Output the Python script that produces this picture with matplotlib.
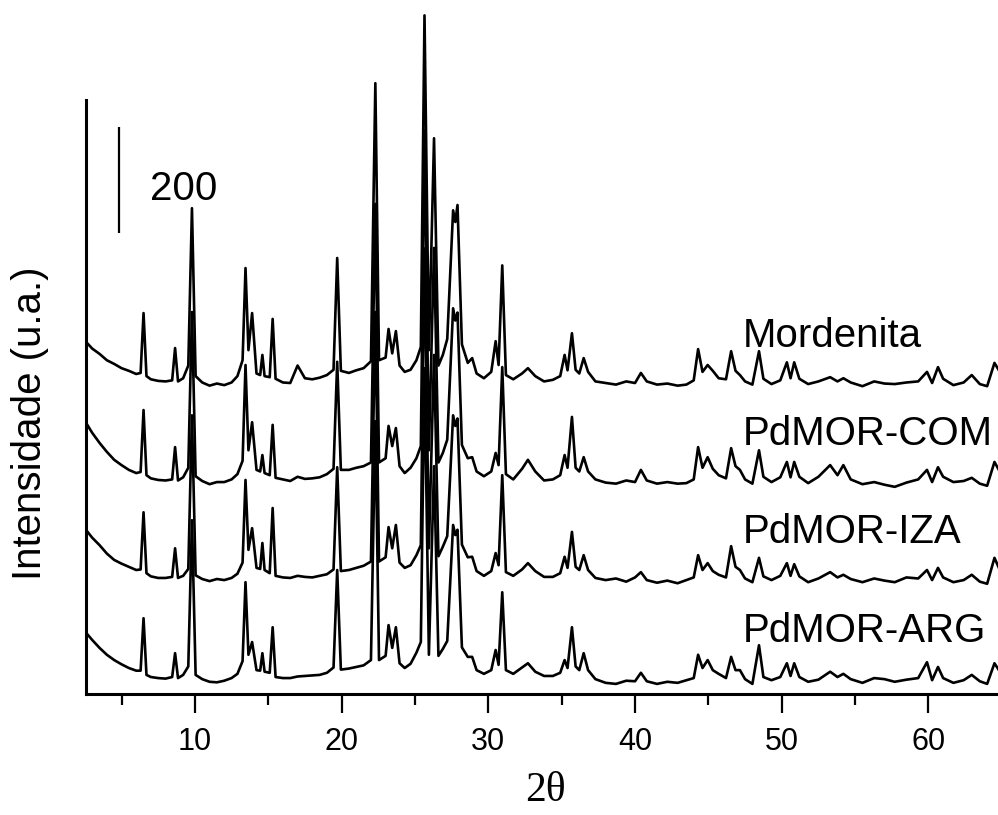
import matplotlib
matplotlib.use("Agg")
import matplotlib.pyplot as plt
from matplotlib.ticker import MultipleLocator, NullLocator
import numpy as np

two_theta = [
    2.6, 3.0, 3.5, 4.0, 4.5, 5.0, 5.5, 6.0, 6.3, 6.5,
    6.7, 7.0, 7.5, 8.0, 8.45, 8.65, 8.85, 9.2, 9.55, 9.8,
    10.05, 10.5, 11.0, 11.5, 12.0, 12.5, 12.9, 13.25, 13.45, 13.65,
    13.9, 14.2, 14.45, 14.6, 14.75, 15.1, 15.3, 15.5, 16.0, 16.5,
    17.0, 17.5, 18.0, 18.5, 19.0, 19.45, 19.7, 19.95, 20.5, 21.0,
    21.5, 22.0, 22.3, 22.55, 23.0, 23.2, 23.45, 23.7, 23.95, 24.3,
    24.7, 25.1, 25.4, 25.65, 25.95, 26.3, 26.6, 26.9, 27.2, 27.6,
    27.75, 27.9, 28.2, 28.6, 28.9, 29.2, 29.7, 30.2, 30.5, 30.7,
    30.95, 31.2, 31.7, 32.3, 32.7, 33.2, 33.8, 34.4, 34.9, 35.2,
    35.4, 35.7, 35.95, 36.2, 36.5, 36.8, 37.3, 38.0, 38.7, 39.4,
    40.0, 40.4, 40.8, 41.5, 42.2, 42.9, 43.5, 44.0, 44.3, 44.6,
    44.95, 45.3, 45.7, 46.2, 46.55, 46.85, 47.15, 47.5, 48.0, 48.45,
    48.75, 49.3, 49.9, 50.35, 50.6, 50.85, 51.2, 51.8, 52.5, 53.3,
    53.8, 54.2, 54.7, 55.5, 56.3, 57.0, 57.7, 58.5, 59.3, 59.9,
    60.25, 60.65, 61.0, 61.7, 62.4, 62.95, 63.5, 64.0, 64.5, 64.8,
]

mordenita = [
    104, 92, 82, 70, 63, 55, 50, 44, 46, 159,
    40, 34, 31, 30, 32, 93, 30, 36, 60, 357,
    40, 28, 22, 26, 23, 28, 40, 70, 244, 89,
    159, 45, 42, 80, 40, 38, 148, 35, 28, 27,
    60, 36, 34, 37, 42, 52, 263, 50, 46, 51,
    55, 68, 593, 70, 75, 129, 83, 125, 60, 48,
    52, 70, 95, 721, 89, 489, 60, 80, 110, 353,
    331, 363, 100, 65, 74, 45, 36, 48, 106, 61,
    249, 42, 34, 45, 55, 40, 30, 33, 40, 80,
    51, 121, 52, 45, 74, 48, 30, 27, 24, 30,
    27, 46, 30, 24, 26, 22, 24, 32, 91, 48,
    61, 50, 36, 34, 87, 50, 42, 30, 24, 87,
    35, 25, 32, 66, 36, 66, 35, 25, 30, 38,
    30, 36, 28, 21, 30, 26, 25, 28, 30, 48,
    27, 57, 35, 23, 28, 42, 25, 21, 65, 51,
]

pdmor_com = [
    136, 118, 99, 82, 67, 57, 48, 42, 44, 161,
    38, 32, 29, 28, 30, 91, 28, 34, 52, 346,
    36, 27, 21, 25, 25, 30, 40, 65, 246, 85,
    138, 48, 45, 76, 42, 38, 133, 33, 30, 27,
    35, 31, 32, 34, 40, 50, 252, 48, 48, 52,
    55, 62, 550, 62, 70, 131, 93, 127, 55, 42,
    52, 70, 93, 689, 85, 467, 62, 80, 105, 353,
    330, 345, 95, 70, 72, 45, 36, 45, 80, 57,
    242, 40, 30, 50, 67, 45, 28, 30, 38, 76,
    52, 148, 52, 45, 72, 45, 30, 24, 22, 28,
    25, 48, 28, 22, 25, 22, 23, 30, 91, 52,
    72, 50, 38, 32, 89, 55, 48, 30, 22, 85,
    35, 25, 34, 63, 34, 63, 35, 23, 35, 57,
    38, 57, 30, 21, 25, 20, 16, 24, 30, 48,
    25, 53, 35, 25, 27, 33, 22, 18, 63, 48,
]

pdmor_iza = [
    119, 105, 91, 75, 63, 56, 50, 44, 45, 153,
    38, 32, 29, 29, 31, 85, 29, 33, 46, 336,
    34, 27, 23, 27, 25, 29, 37, 58, 214, 82,
    123, 48, 46, 95, 44, 38, 161, 33, 30, 29,
    33, 31, 30, 33, 36, 45, 238, 42, 44, 48,
    52, 60, 531, 60, 68, 125, 85, 129, 58, 48,
    53, 72, 91, 651, 85, 450, 70, 88, 108, 336,
    316, 330, 92, 68, 69, 42, 33, 42, 76, 53,
    223, 40, 33, 45, 57, 42, 31, 31, 38, 69,
    48, 116, 50, 44, 72, 44, 29, 25, 28, 22,
    30, 40, 25, 20, 24, 19, 25, 30, 72, 44,
    57, 42, 35, 30, 89, 50, 44, 28, 21, 67,
    32, 25, 33, 57, 33, 55, 32, 21, 28, 40,
    30, 35, 27, 21, 28, 24, 21, 30, 28, 44,
    25, 48, 30, 21, 25, 35, 22, 18, 67, 48,
]

pdmor_arg = [
    115, 102, 87, 74, 64, 56, 49, 44, 44, 143,
    36, 32, 30, 29, 32, 77, 30, 36, 52, 328,
    36, 28, 23, 22, 25, 30, 38, 62, 211, 74,
    98, 45, 44, 77, 42, 40, 126, 32, 30, 30,
    33, 34, 35, 36, 40, 50, 234, 46, 48, 51,
    54, 64, 515, 64, 72, 130, 87, 126, 58, 49,
    57, 78, 98, 615, 74, 430, 72, 85, 100, 319,
    300, 310, 88, 70, 70, 45, 38, 45, 83, 55,
    192, 45, 38, 50, 58, 42, 34, 34, 40, 64,
    49, 126, 52, 45, 77, 45, 28, 21, 19, 25,
    24, 40, 24, 19, 23, 21, 26, 30, 74, 49,
    64, 45, 38, 30, 70, 45, 45, 28, 19, 92,
    32, 26, 32, 58, 34, 58, 32, 23, 27, 42,
    32, 38, 28, 21, 30, 28, 23, 27, 30, 60,
    26, 51, 30, 21, 26, 36, 24, 19, 58, 45,
]

sample_names = ["Mordenita", "PdMOR-COM", "PdMOR-IZA", "PdMOR-ARG"]
patterns = [mordenita, pdmor_com, pdmor_iza, pdmor_arg]
offsets = [560, 375, 190, 0]          # vertical shift of each pattern (counts)
label_heights = [655, 470, 285, 98]   # baseline of each name (counts)

SANS = ["Liberation Sans", "DejaVu Sans"]
SERIF = ["Liberation Serif", "DejaVu Serif"]

fig = plt.figure(figsize=(9.98, 8.15), dpi=100)
ax = fig.add_axes([0.0862, 0.1485, 0.9138, 0.8515])

for name, counts, shift, y_label in zip(sample_names, patterns, offsets, label_heights):
    ax.plot(two_theta, np.array(counts) + shift, color="black", lw=1.9)
    ax.text(47.36, y_label, name, fontsize=29, family=SANS, va="baseline", ha="left")

# 200 counts scale bar
ax.plot([4.82, 4.82], [870, 1070], color="black", lw=1.6, solid_capstyle="butt")
ax.text(6.93, 932, "200", fontsize=29, family=SANS, va="baseline", ha="left")

ax.set_xlim(2.58, 64.74)
ax.set_ylim(0, 1310)

# Only left + bottom axes, left one stops below the tallest peak
ax.spines["top"].set_visible(False)
ax.spines["right"].set_visible(False)
ax.spines["left"].set_bounds(0, 1121)
ax.spines["left"].set_linewidth(2.2)
ax.spines["bottom"].set_linewidth(2.2)

ax.yaxis.set_major_locator(NullLocator())
ax.xaxis.set_major_locator(MultipleLocator(10))
ax.xaxis.set_minor_locator(MultipleLocator(5))
ax.tick_params(axis="x", which="major", direction="out", length=14, width=1.6,
               pad=10, labelsize=22)
ax.tick_params(axis="x", which="minor", direction="out", length=8, width=1.6)
for lbl in ax.get_xticklabels():
    lbl.set_family(SANS)

fig.text(30 / 998, 0.481, "Intensidade (u.a.)", rotation=90, fontsize=29,
         family=SANS, ha="center", va="center")
fig.text(545 / 998, 0.03, "2θ", fontsize=30, family=SERIF, ha="center",
         va="center")

fig.savefig("out.png", dpi=100)
